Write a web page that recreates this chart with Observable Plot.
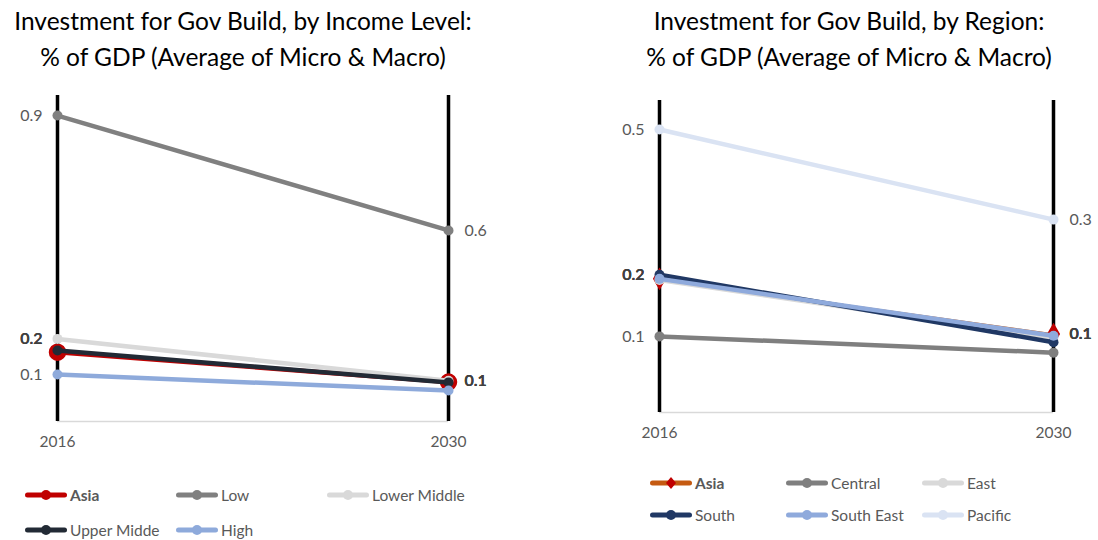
<!DOCTYPE html>
<html>
<head>
<meta charset="utf-8">
<script src="https://cdn.jsdelivr.net/npm/d3@7"></script>
<script src="https://cdn.jsdelivr.net/npm/@observablehq/plot@0.6"></script>
<style>
  body { margin: 0; background: #fff; font-family: Lato, "Open Sans", sans-serif; }
  #page { position: relative; width: 1098px; height: 540px; overflow: hidden; background: #fff; }
  .title { position: absolute; top: 3px; text-align: center; font-size: 24.5px; line-height: 36px; color: #000; white-space: nowrap; }
  .panel { position: absolute; top: 80px; }
  .legend-item { position: absolute; display: flex; align-items: center; font-size: 15.5px; color: #595959; white-space: nowrap; }
  .legend-item svg { margin-right: 1px; }
</style>
</head>
<body>
<div id="page"></div>
<script>
// ---- Data ---------------------------------------------------------------
const years = [2016, 2030];

// Investment for Gov Build by income level, % of GDP
const incomeGroups = ["Asia", "Low", "Lower Middle", "Upper Midde", "High"];
const income2016 = [0.204, 0.900, 0.243, 0.209, 0.138];
const income2030 = [0.116, 0.562, 0.120, 0.115, 0.091];
const incomeColors = ["#c00000", "#808080", "#d9d9d9", "#222a35", "#8eaadb"];

// Investment for Gov Build by region, % of GDP
const regionGroups = ["Asia", "Central", "East", "South", "South East", "Pacific"];
const region2016 = [0.230, 0.131, 0.228, 0.237, 0.230, 0.487];
const region2030 = [0.135, 0.103, 0.129, 0.121, 0.132, 0.332];
const regionColors = ["#c55a11", "#7f7f7f", "#d9d9d9", "#203864", "#8faadc", "#dae3f3"];

const titles = [
  ["Investment for Gov Build, by Income Level:", "% of GDP (Average of Micro & Macro)"],
  ["Investment for Gov Build, by Region:", "% of GDP (Average of Micro & Macro)"]
];

// ---- Helpers ------------------------------------------------------------
const fmt = d3.format(".1f");
const page = document.getElementById("page");

function toRows(groups, v0, v1) {
  return groups.flatMap((g, i) => [
    {group: g, i, year: years[0], value: v0[i]},
    {group: g, i, year: years[1], value: v1[i]}
  ]);
}

// Labels that would collide are stacked on the same spot, as the chart's data labels do
function labelRows(rows, year, pxPerUnit) {
  const pts = rows.filter(r => r.year === year).sort((a, b) => b.value - a.value);
  let prev = null, ly = null;
  return pts.map(p => {
    if (!prev || (prev.value - p.value) * pxPerUnit >= 16) ly = p.value;
    prev = p;
    return {...p, ly, txt: fmt(p.value)};
  });
}

function slopePanel(cfg) {
  const rows = toRows(cfg.groups, cfg.v2016, cfg.v2030);
  const pxPerUnit = (cfg.height - cfg.marginTop - cfg.marginBottom) / cfg.yMax;
  const left = labelRows(rows, years[0], pxPerUnit);
  const right = labelRows(rows, years[1], pxPerUnit);
  const isAsia = d => d.group === "Asia";

  const seriesMarks = cfg.groups.flatMap((g, i) => {
    const data = rows.filter(r => r.group === g);
    const asia = g === "Asia";
    const marks = [Plot.line(data, {x: "year", y: "value", stroke: cfg.colors[i],
      strokeWidth: asia && cfg.asiaThin ? 1.5 : 4.5, strokeLinecap: "round"})];
    if (asia) {
      marks.push(Plot.dot(data, {x: "year", y: "value", fill: "#c00000", stroke: "#c00000",
        symbol: cfg.asiaSymbol, r: cfg.asiaR}));
    } else {
      marks.push(Plot.dot(data, {x: "year", y: "value", fill: cfg.colors[i], r: 5}));
    }
    return marks;
  });

  const textStyle = {fontSize: 16, fill: "#595959"};
  return Plot.plot({
    width: cfg.width,
    height: cfg.height,
    marginTop: cfg.marginTop,
    marginBottom: cfg.marginBottom,
    marginLeft: cfg.marginLeft,
    marginRight: cfg.marginRight,
    style: {fontFamily: "Lato, 'Open Sans', sans-serif", fontSize: "15.5px", color: "#595959", background: "transparent"},
    x: {type: "linear", domain: years, ticks: years, tickFormat: "d", tickSize: 0, tickPadding: 14, label: null},
    y: {domain: [0, cfg.yMax], axis: null},
    marks: [
      Plot.ruleY([0], {stroke: "#d9d9d9", strokeWidth: 1.5}),
      Plot.ruleX(years, {stroke: "#000", strokeWidth: 3.5}),
      ...seriesMarks,
      Plot.text(left.filter(d => !isAsia(d)), {x: "year", y: "ly", text: "txt", textAnchor: "end", dx: -15, ...textStyle}),
      Plot.text(right.filter(d => !isAsia(d)), {x: "year", y: "ly", text: "txt", textAnchor: "start", dx: 16, ...textStyle}),
      Plot.text(left.filter(isAsia), {x: "year", y: "ly", text: "txt", textAnchor: "end", dx: -15, ...textStyle, fill: "#404040", fontWeight: "bold"}),
      Plot.text(right.filter(isAsia), {x: "year", y: "ly", text: "txt", textAnchor: "start", dx: 16, ...textStyle, fill: "#404040", fontWeight: "bold"})
    ]
  });
}

function addTitle(lines, left, width) {
  const t = document.createElement("div");
  t.className = "title";
  t.style.left = left + "px";
  t.style.width = width + "px";
  t.innerHTML = lines.map(l => `<div>${l.replace(/&/g, "&amp;")}</div>`).join("");
  page.appendChild(t);
}

function addLegend(groups, colors, asiaSymbol, x0, colW, y0, rowH) {
  groups.forEach((g, i) => {
    const col = i % 3, row = Math.floor(i / 3);
    const item = document.createElement("div");
    item.className = "legend-item";
    item.style.left = (x0 + col * colW) + "px";
    item.style.top = (y0 + row * rowH - 10) + "px";
    item.style.height = "20px";
    const c = colors[i];
    let marker;
    if (g === "Asia" && asiaSymbol === "diamond") {
      marker = `<path d="M21,4 L26,10 L21,16 L16,10 Z" fill="#c00000"/>`;
    } else {
      marker = `<circle cx="21" cy="10" r="5" fill="${g === "Asia" ? "#c00000" : c}"/>`;
    }
    item.innerHTML = `<svg width="44" height="20"><line x1="2.5" y1="10" x2="39.5" y2="10" stroke="${c}" stroke-width="5" stroke-linecap="round"/>${marker}</svg>` +
      `<span style="${g === "Asia" ? "font-weight:bold;" : ""}">${g}</span>`;
    page.appendChild(item);
  });
}

// ---- Left panel: income level ------------------------------------------
addTitle(titles[0], 0, 486);
const leftPlot = slopePanel({
  groups: incomeGroups, v2016: income2016, v2030: income2030, colors: incomeColors,
  width: 530, height: 380, marginTop: 15, marginBottom: 39, marginLeft: 57, marginRight: 82,
  yMax: 0.959, asiaSymbol: "circle", asiaR: 8, asiaThin: false
});
leftPlot.classList.add("panel");
leftPlot.style.left = "0px";
page.appendChild(leftPlot);
addLegend(incomeGroups, incomeColors, "circle", 25, 151, 495, 35);

// ---- Right panel: region ------------------------------------------------
addTitle(titles[1], 600, 498);
const rightPlot = slopePanel({
  groups: regionGroups, v2016: region2016, v2030: region2030, colors: regionColors,
  width: 498, height: 380, marginTop: 20, marginBottom: 48, marginLeft: 59, marginRight: 45,
  yMax: 0.537, asiaSymbol: "diamond", asiaR: 6, asiaThin: true
});
rightPlot.classList.add("panel");
rightPlot.style.left = "600px";
page.appendChild(rightPlot);
addLegend(regionGroups, regionColors, "diamond", 650, 136, 483, 32);
</script>
</body>
</html>
